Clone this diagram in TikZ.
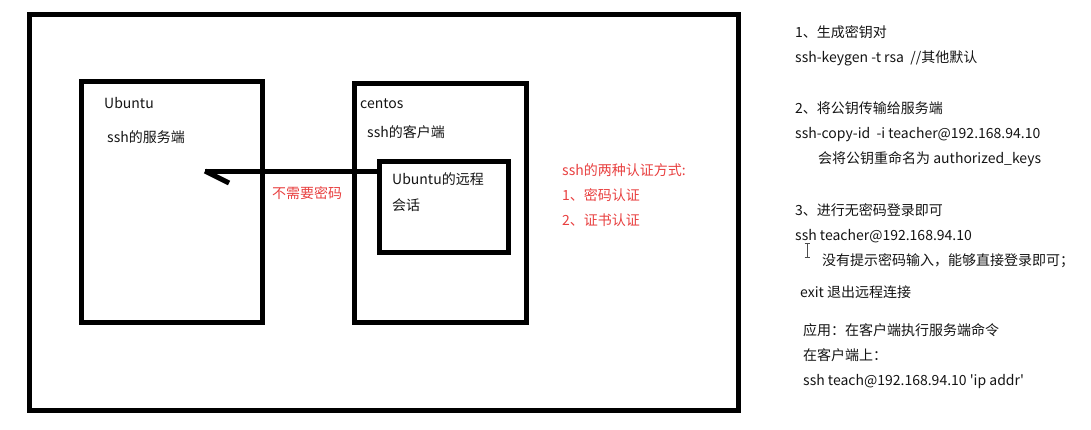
\documentclass[tikz,border=0pt]{standalone}
\usepackage{fontspec}
\setmainfont{Noto Sans CJK SC}
\begin{document}
\begin{tikzpicture}[x=1pt,y=-1pt,
  box/.style={draw=black,line width=5pt},
  txt/.style={anchor=base west,inner sep=0pt,font=\fontsize{14}{16}\selectfont,text=black!92},
  red/.style={txt,text={rgb,255:red,232;green,64;blue,64}}]
\useasboundingbox (0,0) rectangle (1091,429);
% boxes
\draw[box] (29,14) rectangle (738,410.5);
\draw[box] (81.5,81.5) rectangle (262.5,322);
\draw[box] (354,83) rectangle (526,322);
\node[draw=black,line width=5pt,anchor=north west,minimum width=129pt,minimum height=91pt,inner sep=0pt] (sess) at (377,159) {};
\coordinate (tip) at (205,171);
\coordinate (barb) at (229,183);
\draw[line width=5pt] (sess.west |- tip) -- (tip);
\draw[line width=5pt] (tip) -- (barb);
% labels in diagram
\node[txt] (ub) at (104,108) {Ubuntu};
\node[txt] (ubs) at (107,142) {ssh的服务端};
\node[txt] (ce) at (360,108) {centos};
\node[txt] (cec) at (367,137) {ssh的客户端};
\node[txt] (s1) at (392,184) {Ubuntu的远程};
\node[txt] (s2) at (392,210) {会话};
\node[red] (np) at (272,198) {不需要密码};
\node[red] (a1) at (562,175) {ssh的两种认证方式:};
\node[red] (a2) at (562,200) {1、密码认证};
\node[red] (a3) at (562,225) {2、证书认证};
% right notes
\node[txt] (r1) at (795,37) {1、生成密钥对};
\node[txt] (r2) at (795,62) {ssh-keygen -t rsa\ \ //其他默认};
\node[txt] (r3) at (795,113) {2、将公钥传输给服务端};
\node[txt] (r4) at (795,138) {ssh-copy-id\ \ -i teacher@192.168.94.10};
\node[txt] (r5) at (818,163) {会将公钥重命名为 authorized\_keys};
\node[txt] (r6) at (795,215) {3、进行无密码登录即可};
\node[txt] (r7) at (795,240) {ssh teacher@192.168.94.10};
\node[txt] (r8) at (822,265) {没有提示密码输入，能够直接登录即可；};
\node[txt] (r9) at (800,297) {exit 退出远程连接};
\node[txt] (r10) at (803,335) {应用：在客户端执行服务端命令};
\node[txt] (r11) at (803,360) {在客户端上：};
\node[txt] (r12) at (803,385) {ssh teach@192.168.94.10 \textquotesingle ip addr\textquotesingle};
% text cursor
\draw[black!70,line width=0.8pt] (807,243) -- (807,257) (804.5,243) -- (809.5,243) (804.5,257) -- (809.5,257);
\end{tikzpicture}
\end{document}
